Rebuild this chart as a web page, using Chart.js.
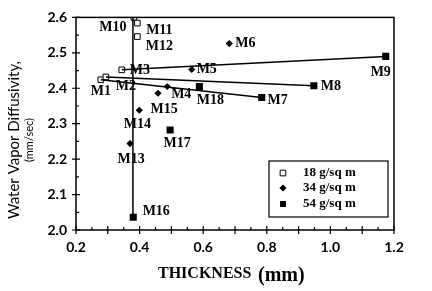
<!DOCTYPE html>
<html>
<head>
<meta charset="utf-8">
<script src="https://cdn.jsdelivr.net/npm/chart.js@4.4.1/dist/chart.umd.min.js"></script>
<style>
  html, body { margin: 0; padding: 0; background: #fff; }
  #wrap { width: 432px; height: 291px; }
</style>
</head>
<body>
<div id="wrap"><canvas id="vaporChart"></canvas></div>
<script>
// 18 g/sq m samples (open squares)
const names18 = ['M1', 'M2', 'M3', 'M10', 'M11', 'M12'];
const thick18 = [0.278, 0.294, 0.344, 0.382, 0.393, 0.393];
const diff18 = [2.424, 2.432, 2.452, 2.600, 2.584, 2.546];

// 34 g/sq m samples (diamonds)
const names34 = ['M4', 'M5', 'M6', 'M13', 'M14', 'M15'];
const thick34 = [0.487, 0.564, 0.682, 0.370, 0.399, 0.458];
const diff34 = [2.405, 2.453, 2.526, 2.244, 2.338, 2.386];

// 54 g/sq m samples (filled squares)
const names54 = ['M7', 'M8', 'M9', 'M16', 'M17', 'M18'];
const thick54 = [0.784, 0.948, 1.174, 0.380, 0.496, 0.588];
const diff54 = [2.374, 2.407, 2.490, 2.036, 2.282, 2.405];

// trend lines (start / end points)
const lineA = [[0.344, 2.452], [1.174, 2.490]];
const lineB = [[0.294, 2.432], [0.948, 2.407]];
const lineC = [[0.278, 2.424], [0.784, 2.374]];
const lineV = [[0.379, 2.600], [0.379, 2.036]];

const xTicks = [0.2, 0.4, 0.6, 0.8, 1.0, 1.2];
const yTicks = [2.0, 2.1, 2.2, 2.3, 2.4, 2.5, 2.6];

const legendLabels = ['18 g/sq m', '34 g/sq m', '54 g/sq m'];

// label offsets in pixels from each marker
const labelOffset = {
    M1: [0, 12], M2: [20, 9], M3: [18, 1], M10: [-21, 10], M11: [22, 7], M12: [22, 10],
    M4: [14, 8], M5: [15, 0], M6: [16, 0], M13: [1, 16], M14: [-2, 14], M15: [6, 16],
    M7: [16, 3], M8: [17, 1], M9: [-5, 16], M16: [23, -6], M17: [7, 13], M18: [11, 14],
};

const toPts = (xs, ys, ns) => xs.map((x, i) => ({x: x, y: ys[i], name: ns ? ns[i] : ''}));
const toLine = arr => arr.map(p => ({x: p[0], y: p[1]}));

const lineStyle = {
    showLine: true,
    borderColor: '#000',
    borderWidth: 1.5,
    pointRadius: 0,
    fill: false,
};

const data = {
    datasets: [
        Object.assign({label: 'a', data: toLine(lineA)}, lineStyle),
        Object.assign({label: 'b', data: toLine(lineB)}, lineStyle),
        Object.assign({label: 'c', data: toLine(lineC)}, lineStyle),
        Object.assign({label: 'v', data: toLine(lineV)}, lineStyle),
        {
            label: legendLabels[0],
            data: toPts(thick18, diff18, names18),
            pointStyle: 'rect',
            pointRadius: 4,
            pointBackgroundColor: '#fff',
            pointBorderColor: '#000',
            pointBorderWidth: 1,
        },
        {
            label: legendLabels[1],
            data: toPts(thick34, diff34, names34),
            pointStyle: 'rectRot',
            pointRadius: 3.6,
            pointBackgroundColor: '#000',
            pointBorderColor: '#000',
            pointBorderWidth: 0,
        },
        {
            label: legendLabels[2],
            data: toPts(thick54, diff54, names54),
            pointStyle: 'rect',
            pointRadius: 5,
            pointBackgroundColor: '#000',
            pointBorderColor: '#000',
            pointBorderWidth: 0,
        },
    ]
};

const isMajor = v => Math.abs(v * 10 - Math.round(v * 10)) < 1e-6;

// frame, tick marks, point labels, axis titles and legend box
const decorPlugin = {
    id: 'decor',
    afterDatasetsDraw(chart) {
        const ctx = chart.ctx;
        const a = chart.chartArea;
        const xs = chart.scales.x;
        const ys = chart.scales.y;
        ctx.save();
        ctx.strokeStyle = '#000';
        ctx.lineWidth = 1.5;
        ctx.strokeRect(a.left, a.top, a.right - a.left, a.bottom - a.top);

        ctx.lineWidth = 1.2;
        ctx.beginPath();
        for (let i = 0; i <= 20; i++) {
            const v = 0.2 + i * 0.05;
            const px = xs.getPixelForValue(v);
            if (isMajor(v)) {
                ctx.moveTo(px, a.bottom - 4); ctx.lineTo(px, a.bottom + 4);
            } else {
                ctx.moveTo(px, a.bottom - 3); ctx.lineTo(px, a.bottom);
            }
        }
        for (let i = 0; i <= 12; i++) {
            const v = 2.0 + i * 0.05;
            const py = ys.getPixelForValue(v);
            if (isMajor(v)) {
                ctx.moveTo(a.left - 4, py); ctx.lineTo(a.left + 4, py);
            } else {
                ctx.moveTo(a.left, py); ctx.lineTo(a.left + 3, py);
            }
        }
        ctx.stroke();

        // point labels
        ctx.fillStyle = '#000';
        ctx.font = 'bold 14px "Liberation Serif"';
        ctx.textAlign = 'center';
        ctx.textBaseline = 'middle';
        [4, 5, 6].forEach(di => {
            chart.getDatasetMeta(di).data.forEach((el, i) => {
                const nm = chart.data.datasets[di].data[i].name;
                const off = labelOffset[nm] || [0, 0];
                ctx.fillText(nm, el.x + off[0], el.y + off[1]);
            });
        });

        // legend box
        const lx = 269, ly = 161, lw = 119, lh = 56;
        ctx.fillStyle = '#fff';
        ctx.fillRect(lx, ly, lw, lh);
        ctx.lineWidth = 1.2;
        ctx.strokeRect(lx, ly, lw, lh);
        const rows = [173, 188, 204];
        ctx.font = 'bold 13px "Liberation Serif"';
        ctx.textAlign = 'left';
        [4, 5, 6].forEach((di, k) => {
            const ds = chart.data.datasets[di];
            ctx.fillStyle = ds.pointBackgroundColor;
            ctx.strokeStyle = '#000';
            ctx.lineWidth = 1;
            Chart.helpers.drawPoint(ctx, {
                pointStyle: ds.pointStyle,
                radius: di === 6 ? 4.2 : ds.pointRadius,
                borderWidth: ds.pointBorderWidth,
                rotation: 0,
            }, 283, rows[k]);
            ctx.fillStyle = '#000';
            ctx.fillText(ds.label, 303, rows[k]);
        });

        // axis titles
        ctx.fillStyle = '#000';
        ctx.textBaseline = 'alphabetic';
        ctx.textAlign = 'left';
        ctx.font = 'bold 16px "Liberation Serif"';
        ctx.fillText('THICKNESS', 158, 278);
        ctx.font = 'bold 20px "Liberation Serif"';
        ctx.fillText('(mm)', 258, 281);

        ctx.translate(19, 140);
        ctx.rotate(-Math.PI / 2);
        ctx.textAlign = 'center';
        ctx.font = '15px Lato';
        ctx.fillText('Water Vapor Diffusivity,', 0, 0);
        ctx.font = '11px Lato';
        ctx.fillText('(mm/sec)', 0, 14);
        ctx.restore();
    }
};

const config = {
    type: 'scatter',
    data: data,
    options: {
        responsive: true,
        maintainAspectRatio: false,
        animation: false,
        layout: {
            padding: {top: 15, right: 38, left: 0, bottom: 0},
        },
        plugins: {
            legend: {display: false},
            tooltip: {enabled: false},
        },
        elements: {
            point: {radius: 0},
            line: {tension: 0},
        },
        scales: {
            x: {
                type: 'linear',
                min: 0.2,
                max: 1.2,
                afterFit(s) { s.height = 61; },
                afterBuildTicks(s) { s.ticks = xTicks.map(v => ({value: v})); },
                grid: {display: false, drawTicks: false},
                border: {display: false},
                ticks: {
                    padding: 9,
                    color: '#000',
                    font: {family: 'Lato', size: 14, weight: 'bold'},
                    callback: v => v.toFixed(1),
                },
            },
            y: {
                type: 'linear',
                min: 2.0,
                max: 2.6,
                afterFit(s) { s.width = 76; },
                afterBuildTicks(s) { s.ticks = yTicks.map(v => ({value: v})); },
                grid: {display: false, drawTicks: false},
                border: {display: false},
                ticks: {
                    padding: 9,
                    color: '#000',
                    font: {family: 'Lato', size: 14, weight: 'bold'},
                    callback: v => v.toFixed(1),
                },
            },
        },
    },
    plugins: [decorPlugin],
};

const vaporChart = new Chart(document.getElementById('vaporChart'), config);
</script>
</body>
</html>
